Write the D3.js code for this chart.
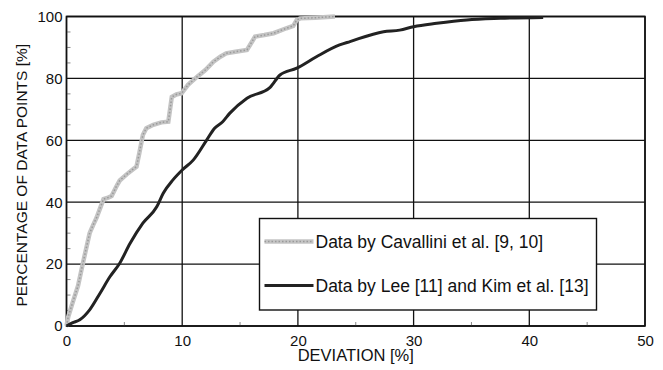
<!DOCTYPE html>
<html>
<head>
<meta charset="utf-8">
<script src="https://cdn.jsdelivr.net/npm/d3@7"></script>
<style>
  body { margin: 0; background: #fff; }
  svg { display: block; }
</style>
</head>
<body>
<svg></svg>
<script>
const wSvg = 663, hSvg = 370;

// cumulative share of data points vs deviation
const cavalliniX = [0, 0.15, 0.55, 1.0, 1.4, 1.7, 2.0, 2.3, 2.6, 2.9, 3.2, 3.6, 3.9, 4.3, 4.6, 5.2, 5.7, 6.05, 6.3, 6.6, 6.9, 7.5, 8.2, 8.8, 9.1, 9.5, 9.95, 10.5, 11.25, 12.0, 12.7, 13.3, 13.8, 14.6, 15.6, 16.3, 17.1, 17.9, 19.0, 19.6, 19.9, 20.2, 21.5, 23.2];
const cavalliniY = [0, 3, 7.8, 13, 20, 25, 30, 32.6, 35, 38, 41, 41.5, 42, 45, 47, 49, 50.5, 51.5, 56, 61.7, 63.9, 65, 65.8, 66, 74, 74.8, 75.2, 77.9, 80.4, 82.7, 85.4, 87, 88.1, 88.6, 89.2, 93.5, 94, 94.6, 96.2, 97, 98.9, 99.4, 99.6, 100];

const leeX = [0, 0.5, 1.15, 2.0, 2.9, 3.75, 4.6, 5.5, 6.6, 7.8, 8.36, 9.2, 10.0, 10.95, 12.1, 12.8, 13.5, 14.1, 15.6, 17.6, 18.45, 19.9, 21.6, 23.6, 24.5, 27.4, 28.8, 30.0, 32.0, 34.6, 37.5, 41.2];
const leeY = [0, 1, 2, 5.2, 10.6, 15.9, 20.3, 26.7, 33.2, 38.5, 42.9, 47.2, 50.4, 53.6, 60, 63.9, 66, 68.7, 73.6, 77.1, 81.1, 83.3, 87, 90.8, 91.9, 95.1, 95.6, 96.7, 97.8, 98.9, 99.4, 99.7];

const xTicks = [0, 10, 20, 30, 40, 50];
const yTicks = [0, 20, 40, 60, 80, 100];
const legendLabels = ["Data by Cavallini et al. [9, 10]", "Data by Lee [11] and Kim et al. [13]"];

const margin = { left: 66.5, right: 18, top: 16.5, bottom: 44 };
const plotW = wSvg - margin.left - margin.right;
const plotH = hSvg - margin.top - margin.bottom;

const svg = d3.select("svg")
    .attr("width", wSvg)
    .attr("height", hSvg)
    .style("font-family", "'Liberation Sans', Arial, sans-serif");

const g = svg.append("g")
    .attr("transform", `translate(${margin.left},${margin.top})`);

const x = d3.scaleLinear().domain([0, 50]).range([0, plotW]);
const y = d3.scaleLinear().domain([0, 100]).range([plotH, 0]);

// grid
g.append("g").selectAll("line")
    .data(xTicks)
    .join("line")
    .attr("x1", d => x(d)).attr("x2", d => x(d))
    .attr("y1", 0).attr("y2", plotH)
    .attr("stroke", "#111").attr("stroke-width", 1.3);

g.append("g").selectAll("line")
    .data(yTicks)
    .join("line")
    .attr("x1", 0).attr("x2", plotW)
    .attr("y1", d => y(d)).attr("y2", d => y(d))
    .attr("stroke", "#111").attr("stroke-width", 1.3);

// minor ticks inside the frame
g.append("g").selectAll("line")
    .data(d3.range(5, 100, 5).filter(v => v % 20 !== 0))
    .join("line")
    .attr("x1", 0).attr("x2", 4)
    .attr("y1", d => y(d)).attr("y2", d => y(d))
    .attr("stroke", "#888").attr("stroke-width", 1);

g.append("g").selectAll("line")
    .data([5, 15, 25, 35, 45])
    .join("line")
    .attr("x1", d => x(d)).attr("x2", d => x(d))
    .attr("y1", plotH).attr("y2", plotH - 4)
    .attr("stroke", "#888").attr("stroke-width", 1);

// frame
g.append("rect")
    .attr("width", plotW).attr("height", plotH)
    .attr("fill", "none").attr("stroke", "#111").attr("stroke-width", 1.6);

// axes labels
const xAxis = g.append("g")
    .attr("transform", `translate(0,${plotH})`)
    .call(d3.axisBottom(x).tickValues(xTicks).tickSize(0).tickPadding(9));
const yAxis = g.append("g")
    .call(d3.axisLeft(y).tickValues(yTicks).tickSize(0).tickPadding(4));
[xAxis, yAxis].forEach(a => {
    a.select(".domain").remove();
    a.selectAll("text")
        .attr("font-size", 15)
        .attr("fill", "#111")
        .style("font-family", "'Liberation Sans', Arial, sans-serif");
});

svg.append("text")
    .attr("x", margin.left + x(25))
    .attr("y", 361)
    .attr("text-anchor", "middle")
    .attr("font-size", 16.5)
    .attr("fill", "#111")
    .text("DEVIATION [%]");

svg.append("text")
    .attr("transform", `translate(27,${margin.top + plotH / 2 + 4}) rotate(-90)`)
    .attr("text-anchor", "middle")
    .attr("font-size", 15.5)
    .attr("fill", "#111")
    .text("PERCENTAGE OF DATA POINTS [%]");

// curves
const line = d3.line()
    .x(d => x(d[0]))
    .y(d => y(d[1]));

const cavalliniPts = d3.zip(cavalliniX, cavalliniY);
const leePts = d3.zip(leeX, leeY);

g.append("path")
    .datum(cavalliniPts)
    .attr("d", line)
    .attr("fill", "none")
    .attr("stroke", "#c4c4c4")
    .attr("stroke-width", 4.5);
g.append("path")
    .datum(cavalliniPts)
    .attr("d", line)
    .attr("fill", "none")
    .attr("stroke", "#9a9a9a")
    .attr("stroke-width", 1.5)
    .attr("stroke-dasharray", "1.5,2");

g.append("path")
    .datum(leePts)
    .attr("d", line.curve(d3.curveMonotoneX))
    .attr("fill", "none")
    .attr("stroke", "#222")
    .attr("stroke-width", 3)
    .attr("stroke-linejoin", "round");

// legend
const legend = svg.append("g").attr("transform", "translate(259.5,218.5)");
legend.append("rect")
    .attr("width", 337).attr("height", 91.5)
    .attr("fill", "#fff").attr("stroke", "#111").attr("stroke-width", 1.4);

const legRows = legend.selectAll("g.row")
    .data(legendLabels)
    .join("g")
    .attr("class", "row")
    .attr("transform", (d, i) => `translate(0,${23 + i * 44})`);

legRows.append("line")
    .attr("x1", 5).attr("x2", 54)
    .attr("stroke", (d, i) => i === 0 ? "#c4c4c4" : "#222")
    .attr("stroke-width", (d, i) => i === 0 ? 4.5 : 3);
legRows.filter((d, i) => i === 0).append("line")
    .attr("x1", 5).attr("x2", 54)
    .attr("stroke", "#9a9a9a").attr("stroke-width", 1.5)
    .attr("stroke-dasharray", "1.5,2");

legRows.append("text")
    .attr("x", 56)
    .attr("y", 6)
    .attr("font-size", 17.5)
    .attr("fill", "#111")
    .text(d => d);
</script>
</body>
</html>
